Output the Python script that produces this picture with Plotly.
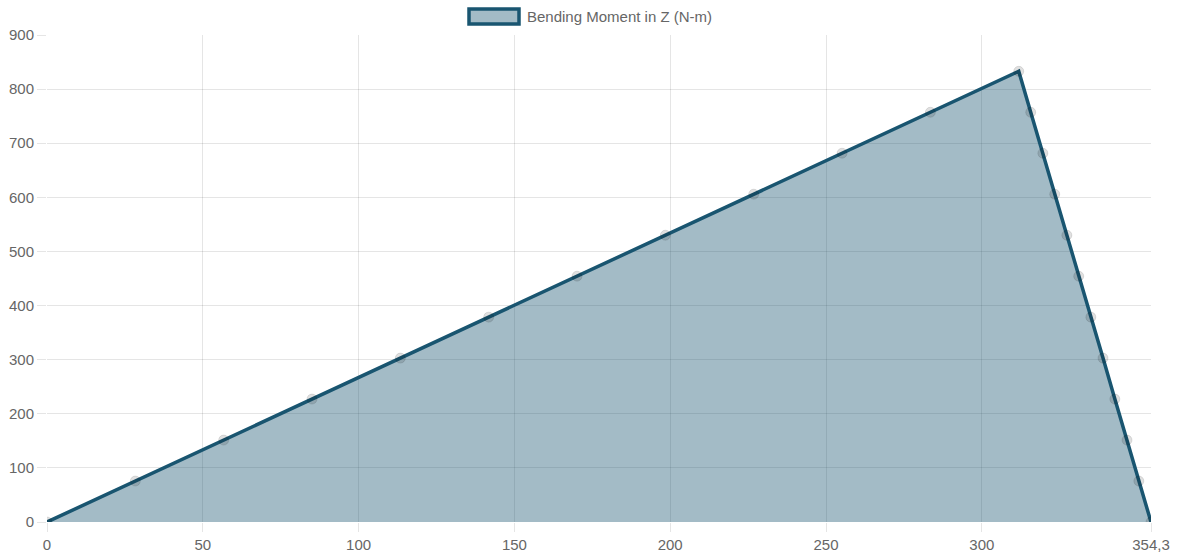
import plotly.graph_objects as go

# Position along the beam (mm) and bending moment about Z (N-m)
position = [0, 28.35, 56.7, 85.05, 113.4, 141.75, 170.1, 198.45, 226.8, 255.15, 283.5, 311.85,
            315.7, 319.6, 323.4, 327.3, 331.1, 335.0, 338.9, 342.7, 346.6, 350.4, 354.3]
moment_z = [0, 75.7, 151.4, 227.2, 302.9, 378.6, 454.3, 530.0, 605.8, 681.5, 757.2, 832.9,
            757.2, 681.5, 605.8, 530.0, 454.3, 378.6, 302.9, 227.2, 151.4, 75.7, 0]

x_tick_vals = [0, 50, 100, 150, 200, 250, 300, 354.3]
x_tick_text = ["0", "50", "100", "150", "200", "250", "300", "354,3"]
y_tick_vals = [0, 100, 200, 300, 400, 500, 600, 700, 800, 900]
series_name = "Bending Moment in Z (N-m)"

line_color = "rgb(25,85,112)"
fill_color = "rgba(25,85,112,0.4)"
grid_color = "rgba(0,0,0,0.1)"
text_color = "#666666"
font_family = "Liberation Sans, Arial, sans-serif"

fig = go.Figure()
fig.add_trace(go.Scatter(
    x=position, y=moment_z, name=series_name, mode="lines+markers",
    line=dict(color=line_color, width=3.5),
    marker=dict(size=10, color="rgba(0,0,0,0.12)", line=dict(width=1, color="rgba(0,0,0,0.1)")),
    fill="tozeroy", fillcolor=fill_color, showlegend=False,
))

axis_common = dict(
    showgrid=True, gridcolor=grid_color, gridwidth=1,
    zeroline=False, showline=False, automargin=False,
    ticks="outside", ticklen=9, tickcolor=grid_color, tickwidth=1,
    tickfont=dict(family=font_family, size=15, color=text_color),
)
fig.update_xaxes(range=[0, 354.3], tickmode="array", tickvals=x_tick_vals, ticktext=x_tick_text,
                 **axis_common)
fig.update_yaxes(range=[0, 900], tickmode="array", tickvals=y_tick_vals, **axis_common)

# Legend swatch and label at the top centre
fig.add_shape(type="rect", xref="paper", yref="paper",
              x0=(469 - 47) / 1104, x1=(519 - 47) / 1104,
              y0=(522 - 24) / 487, y1=(522 - 9) / 487,
              line=dict(color=line_color, width=3.5), fillcolor=fill_color)
fig.add_annotation(text=series_name, xref="paper", yref="paper",
                   x=(525 - 47) / 1104, y=(522 - 16.5) / 487, xanchor="left", yanchor="middle",
                   showarrow=False, font=dict(family=font_family, size=15, color=text_color))

fig.update_layout(
    width=1177, height=554,
    margin=dict(l=47, r=26, t=35, b=32),
    paper_bgcolor="white", plot_bgcolor="white",
)

fig.write_html("out.html")
